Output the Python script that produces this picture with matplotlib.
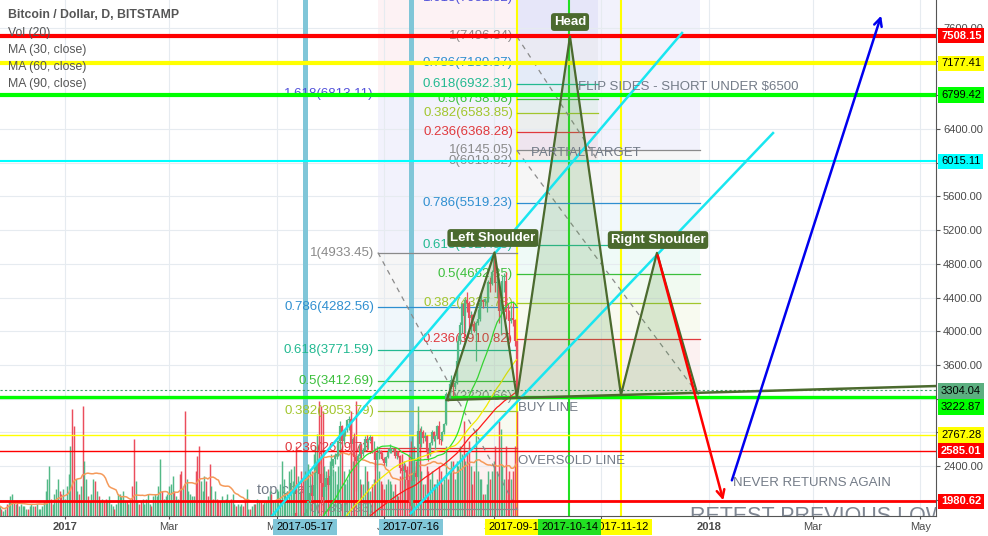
import numpy as np
import pandas as pd
import matplotlib
matplotlib.use("Agg")
import matplotlib.pyplot as plt
import matplotlib.transforms as mtrans

plt.rcParams['font.family'] = ['Liberation Sans', 'DejaVu Sans']

# daily closes BTC/USD, 2016-11-25 .. 2017-09-14
start_date = "2016-11-25"
first_open = 735
closes = [
    736, 728, 729, 733, 732, 743,
    751, 774, 765, 768, 752, 759, 764, 768, 770, 774, 768, 770, 780, 780, 778, 785,
    790, 790, 792, 800, 834, 861, 917, 891, 891, 907, 933, 975, 973, 961, 963,
    998, 1021, 1044, 1154, 1013, 903, 908, 911, 902, 908, 777, 804, 826, 818, 822, 831,
    907, 863, 899, 895, 921, 925, 921, 892, 895, 915, 918, 920, 914, 920, 970,
    989, 1011, 1030, 1040, 1026, 1046, 1055, 1052, 982, 1003, 1014, 999, 990, 1006,
    1007, 1027, 1046, 1055, 1047, 1081, 1118, 1120, 1172, 1177, 1145, 1172, 1189, 1190,
    1222, 1251, 1275, 1256, 1270, 1277, 1234, 1150, 1189, 1116, 1175, 1221, 1231, 1240,
    1249, 1187, 1100, 973, 1022, 1047, 1123, 1050, 1038, 937, 972, 966, 1045, 1044,
    1041, 1037, 1080,
    1087, 1099, 1141, 1142, 1133, 1191, 1193, 1181, 1205, 1209, 1225, 1219, 1172, 1182,
    1186, 1184, 1203, 1212, 1211, 1258, 1261, 1257, 1251, 1257, 1279, 1307, 1346, 1332,
    1348, 1352,
    1421, 1452, 1490, 1537, 1555, 1578, 1596, 1725, 1755, 1787, 1848, 1724, 1804, 1808,
    1739, 1734, 1839, 1888, 1987, 2084, 2041, 2173, 2320, 2443, 2304, 2203, 2038, 2155,
    2255, 2175, 2286,
    2407, 2488, 2516, 2540, 2700, 2874, 2700, 2795, 2824, 2947, 2958, 2659, 2717, 2506,
    2464, 2519, 2655, 2549, 2590, 2721, 2689, 2705, 2745, 2589, 2590, 2478, 2553, 2574,
    2540, 2480,
    2434, 2507, 2564, 2601, 2601, 2608, 2518, 2571, 2518, 2373, 2337, 2398, 2357, 2233,
    1998, 1930, 2229, 2318, 2273, 2818, 2667, 2810, 2730, 2755, 2577, 2530, 2673, 2809,
    2726, 2758, 2875,
    2718, 2710, 2805, 2895, 3252, 3213, 3379, 3420, 3342, 3381, 3650, 3884, 4073, 4325,
    4181, 4376, 4331, 4160, 4193, 4087, 4001, 4100, 4151, 4334, 4371, 4352, 4382, 4382,
    4579, 4565, 4703,
    4892, 4578, 4582, 4236, 4376, 4597, 4599, 4228, 4226, 4122, 4161, 4130, 3882, 3304.04,
]
# daily volume, thousand BTC
volumes = [
    4, 3, 2, 3, 5, 6,
    8, 9, 6, 5, 6, 4, 5, 4, 4, 3, 3, 4, 5, 4, 4, 5, 3, 3, 4, 6, 10, 15, 20, 7, 5, 9, 11, 15, 10, 9, 11,
    7, 12, 17, 28, 43, 36, 15, 10, 9, 12, 44, 22, 15, 8, 6, 9, 15, 14, 10, 8, 6, 7, 6, 7, 6, 8, 5, 4, 3, 5, 9,
    9, 8, 10, 6, 6, 5, 7, 12, 31, 14, 6, 5, 6, 7, 5, 7, 9, 5, 4, 8, 9, 8, 12, 23, 10, 7, 8, 9,
    12, 13, 16, 10, 8, 7, 17, 18, 12, 42, 15, 10, 9, 8, 8, 18, 24, 28, 14, 10, 16, 14, 8, 21, 12, 7, 10, 7, 6, 6, 8,
    6, 7, 9, 6, 7, 9, 5, 4, 5, 4, 5, 4, 6, 11, 3, 3, 4, 5, 5, 7, 6, 6, 5, 6, 6, 8, 10, 9, 6, 6,
    11, 10, 13, 22, 15, 9, 10, 18, 19, 14, 20, 28, 16, 10, 18, 15, 18, 16, 21, 19,
    18, 25, 28, 33, 46, 44, 42, 20, 18, 19, 22,
    25, 19, 18, 13, 20, 30, 28, 18, 13, 15, 19, 42, 22, 32, 46, 25, 15, 13, 13, 20,
    18, 14, 10, 13, 15, 22, 28, 18, 14, 13,
    11, 13, 15, 14, 13, 10, 13, 9, 8, 16, 25, 22, 15, 20, 25, 30, 32, 28, 22, 44,
    28, 18, 13, 13, 20, 18, 15, 18, 13, 13, 15,
    20, 18, 13, 15, 28, 15, 18, 22, 22, 15, 22, 20, 28, 25, 38, 22, 25, 30, 20, 13,
    18, 35, 18, 15, 15, 9, 9, 13, 18, 15, 18,
    22, 28, 18, 38, 35, 20, 15, 28, 15, 18, 15, 18, 28, 42,
]

# highs / lows of the candles that sit inside the price window (from 2017-05-08)
candle_start = "2017-05-08"
highs = [
    1730, 1770, 1790, 1880, 1850, 1810, 1830, 1810, 1760, 1860, 1900, 1990, 2090, 2110,
    2270, 2330, 2500, 2760, 2500, 2320, 2250, 2290, 2300, 2320,
    2450, 2490, 2550, 2560, 2710, 2930, 2890, 2820, 2840, 2960, 2990, 2970, 2750, 2790,
    2530, 2540, 2680, 2670, 2620, 2760, 2770, 2730, 2770, 2760, 2700, 2620, 2570, 2600, 2590, 2570,
    2510, 2520, 2610, 2660, 2620, 2620, 2610, 2580, 2580, 2530, 2430, 2420, 2430, 2380,
    2240, 2060, 2250, 2400, 2400, 2900, 2850, 2880, 2830, 2800, 2770, 2620, 2690, 2830, 2820, 2770, 2890,
    2930, 2760, 2820, 2910, 3280, 3280, 3400, 3480, 3430, 3410, 3690, 3950, 4110, 4330,
    4370, 4390, 4470, 4360, 4240, 4200, 4120, 4120, 4260, 4350, 4450, 4380, 4400, 4400, 4610, 4640, 4730,
    4920, 4933.45, 4700, 4590, 4430, 4650, 4690, 4700, 4330, 4250, 4300, 4360, 4150, 3900,
]
lows = [
    1600, 1695, 1720, 1780, 1690, 1640, 1765, 1690, 1690, 1720, 1820, 1880, 1970, 2000,
    2030, 2140, 2310, 2250, 1970, 1850, 2000, 2120, 2130, 2160,
    2280, 2380, 2430, 2480, 2520, 2690, 2650, 2660, 2760, 2800, 2830, 2330, 2580, 2350,
    2100, 2390, 2500, 2500, 2520, 2580, 2600, 2610, 2700, 2550, 2480, 2350, 2380, 2480, 2500, 2470,
    2410, 2400, 2500, 2560, 2560, 2580, 2500, 2480, 2510, 2320, 2250, 2260, 2330, 2180,
    1980, 1840, 1920, 2180, 2230, 2260, 2620, 2630, 2680, 2700, 2500, 2460, 2520, 2650, 2700, 2600, 2720,
    2660, 2650, 2700, 2780, 2890, 3170, 3200, 3360, 3230, 3320, 3380, 3640, 3850, 3980,
    3900, 3980, 4230, 4000, 3970, 4060, 3990, 3650, 4070, 4120, 4300, 4280, 4300, 4230, 4350, 4460, 4550,
    4690, 4460, 4400, 4100, 3970, 4370, 4460, 4140, 4140, 3900, 4100, 4060, 3820, 3220.6,
]

# horizontal levels (price, colour, text colour of the scale tag)
level_prices = [7508.15, 7177.41, 6799.42, 6015.11, 3222.87, 2767.28, 2585.01, 1980.62]
level_colors = ['#ff0000', '#ffff00', '#00ff00', '#00ffff', '#00ff00', '#ffff00', '#ff0000', '#ff0000']
level_text = ['white', 'black', 'black', 'black', 'black', 'black', 'white', 'white']
last_price = 3304.04

# vertical date markers (days from 2017-01-01)
marker_days = [136, 196, 256, 315, 286]
marker_text = ['2017-05-17', '2017-07-16', '2017-09-14', '2017-11-12', '2017-10-14']
marker_colors = ['#80c6d8', '#80c6d8', '#ffff00', '#ffff00', '#22e022']

# fib retracements: start day, end day, price at level 1, price at level 0
fib_x1 = [177.4, 256.2, 256.2]
fib_x2 = [256.2, 302.2, 360.0]
fib_p1 = [4933.45, 7496.34, 6145.05]
fib_p0 = [1891.93, 6019.824, 3220.66]
fib_levels = [0, 0.236, 0.382, 0.5, 0.618, 0.786, 1, 1.618, 2.618]
fib_colors = ['#8a8a8a', '#e0393e', '#a2c62c', '#3cbf3c', '#22b991', '#2f8fd0', '#8a8a8a',
              '#5151d9', '#e8506a']

# head & shoulders drawing
hs_days = [216.5, 243.5, 256.2, 286.3, 315.2, 335.6, 358.3]
hs_prices = [3185, 4935, 3212, 7496.34, 3244, 4930, 3270]
neck_days = [216.5, 493.8]
neck_prices = [3185, 3350]

# trend / channel lines
cyan_days = [[117.3, 349.8], [196.0, 401.4]]
cyan_prices = [[1808, 7538], [1840, 6351]]

x_ticks = [0, 59, 120, 181, 243, 304, 365, 424, 485]
x_labels = ['2017', 'Mar', 'May', 'Jul', 'Sep', 'Nov', '2018', 'Mar', 'May']

UP, DOWN = '#53b987', '#eb4d5c'
OLIVE = '#4b6a2e'
GREY_TXT = '#737b87'

# ---------------------------------------------------------------------------
dates = pd.date_range(start_date, periods=len(closes), freq='D')
days = (dates - pd.Timestamp('2017-01-01')).days.values.astype(float)
closes = np.array(closes, dtype=float)
opens = np.r_[first_open, closes[:-1]]
volumes = np.array(volumes, dtype=float)
up = closes >= opens

fig = plt.figure(figsize=(9.88, 5.36), dpi=100)
ax = fig.add_axes([0, 20 / 536, 936 / 988, 516 / 536])
ax.set_xlim(-36.85, 493.8)
ax.set_ylim(1808.3, 7929.3)

ax.set_axisbelow(True)
ax.grid(color='#e6ebf0', lw=0.8)
for s in ['top', 'left']:
    ax.spines[s].set_visible(False)
for s in ['right', 'bottom']:
    ax.spines[s].set_color('#555555')
ax.yaxis.tick_right()
ax.set_yticks(np.arange(2000, 7601, 400))
ax.yaxis.set_major_formatter(matplotlib.ticker.FormatStrFormatter('%.2f'))
ax.tick_params(axis='y', length=3, color='#555555', labelsize=8, labelcolor='#4a4a4a', pad=2)
ax.set_xticks(x_ticks)
ax.set_xticklabels(x_labels)
ax.tick_params(axis='x', length=2.5, color='#555555', labelsize=8, labelcolor='#4a4a4a', pad=1.5)
for lbl in ax.get_xticklabels():
    if lbl.get_text() in ('2017', '2018'):
        lbl.set_fontweight('bold')

# fib retracements
lab_tr = mtrans.offset_copy(ax.transData, fig=fig, x=-4, y=0, units='dots')
for x1, x2, p1, p0 in zip(fib_x1, fib_x2, fib_p1, fib_p0):
    prices = [p0 + lv * (p1 - p0) for lv in fib_levels]
    for i, (lv, pr, col) in enumerate(zip(fib_levels, prices, fib_colors)):
        ax.plot([x1, x2], [pr, pr], color=col, lw=0.9, zorder=2)
        ax.text(x1, pr, f"{lv:g}({pr:.2f})", transform=lab_tr, ha='right', va='center',
                color=col, fontsize=9.5, clip_on=True, zorder=2)
        if i > 0:
            ax.fill_between([x1, x2], prices[i - 1], pr, color=col, alpha=0.07, lw=0, zorder=0.5)
    ax.plot([x1, x2], [p1, p0], color='#8a8a8a', lw=0.9, ls=(0, (4, 4)), zorder=2)

# vertical date markers
for d, col in zip(marker_days, marker_colors):
    wide = col == '#80c6d8'
    ax.axvline(d, color=col, lw=3.6 if wide else 1.5, zorder=1)

# volume pane overlay
vol_tr = mtrans.blended_transform_factory(ax.transData, ax.transAxes)
VOL_FRAC = 2.5 / 516
ax.vlines(days, 0, volumes * VOL_FRAC, transform=vol_tr,
          colors=np.where(up, UP, DOWN), lw=1.05, zorder=1.5)
vol_ma = pd.Series(volumes).rolling(20, min_periods=1).mean().values
ax.plot(days, vol_ma * VOL_FRAC, transform=vol_tr, color='#f59a5a', lw=1.1, zorder=1.6)

# horizontal levels
level_lw = [3.0, 3.0, 3.0, 1.5, 2.4, 1.0, 1.0, 2.0]
for p, col, w in zip(level_prices, level_colors, level_lw):
    ax.axhline(p, color=col, lw=w, zorder=2.5)
ax.axhline(last_price, color='#3f9f6a', lw=0.8, ls=(0, (2, 2)), zorder=2.5)

# candles
i0 = int(np.where(dates == pd.Timestamp(candle_start))[0][0])
cd, co, cc = days[i0:], opens[i0:], closes[i0:]
ccol = np.where(cc >= co, UP, DOWN)
ax.vlines(cd, lows, highs, colors=ccol, lw=0.9, zorder=3)
ax.vlines(cd, np.minimum(co, cc), np.maximum(co, cc), colors=ccol, lw=1.6, zorder=3)

# moving averages
s = pd.Series(closes)
for n, col in [(30, '#2ee02e'), (60, '#f2ea00'), (90, '#ff1a1a')]:
    ax.plot(days, s.rolling(n).mean().values, color=col, lw=0.9, zorder=3.5)

# channel lines
for dd, pp in zip(cyan_days, cyan_prices):
    ax.plot(dd, pp, color='#19e6f0', lw=1.8, zorder=4)

# head & shoulders
for k in range(0, 6, 2):
    ax.fill(hs_days[k:k + 3], hs_prices[k:k + 3], color='#5a9e4a', alpha=0.2, lw=0, zorder=3.8)
ax.plot(hs_days, hs_prices, color=OLIVE, lw=1.6, zorder=4)
ax.plot(neck_days, neck_prices, color=OLIVE, lw=1.8, zorder=4)
box = dict(boxstyle='round,pad=0.22,rounding_size=0.25', fc=OLIVE, ec='none')
ax.text(286.3, 7668, 'Head', ha='center', va='center', color='white', fontsize=9.5,
        fontweight='bold', bbox=box, zorder=6)
ax.text(242.6, 5106, 'Left Shoulder', ha='center', va='center', color='white', fontsize=9.5,
        fontweight='bold', bbox=box, zorder=6)
ax.text(336.2, 5082, 'Right Shoulder', ha='center', va='center', color='white', fontsize=9.5,
        fontweight='bold', bbox=box, zorder=6)

# arrows
ax.annotate('', xy=(373.6, 1962), xytext=(335.6, 4930), zorder=5,
            arrowprops=dict(arrowstyle='->', color='#ff0000', lw=1.8, mutation_scale=14))
ax.annotate('', xy=(463.2, 7775), xytext=(377.6, 2200), zorder=5,
            arrowprops=dict(arrowstyle='->', color='#0000ee', lw=1.8, mutation_scale=14))

# free text
ax.text(290.8, 6897, 'FLIP SIDES - SHORT UNDER $6500', color=GREY_TXT, fontsize=9.5, va='center', zorder=5)
ax.text(264.2, 6114, 'PARTIAL TARGET', color=GREY_TXT, fontsize=9.5, va='center', zorder=5)
ax.text(256.8, 3089, 'BUY LINE', color=GREY_TXT, fontsize=9.5, va='center', zorder=5)
ax.text(256.8, 2460, 'OVERSOLD LINE', color=GREY_TXT, fontsize=9.5, va='center', zorder=5)
ax.text(378.7, 2200, 'NEVER RETURNS AGAIN', color=GREY_TXT, fontsize=9.5, va='center', zorder=5)
ax.text(354.3, 1927, 'RETEST PREVIOUS LOW', color='#7d8591', fontsize=15.5, va='top',
        clip_on=True, zorder=5)
ax.text(108.8, 2116, 'top chart', color=GREY_TXT, fontsize=10.5, va='center', zorder=0.9)

# price scale tags
tag_tr = mtrans.offset_copy(ax.get_yaxis_transform(), fig=fig, x=5, y=0, units='dots')
tag_shift = [0, 0, 0, 0, -10, 0, 0, 0]
ax.text(1.0, last_price, f"{last_price:.2f}", transform=mtrans.offset_copy(tag_tr, fig=fig, y=-1, units='dots'),
        ha='left', va='center', fontsize=8, color='black', clip_on=False, zorder=7,
        bbox=dict(boxstyle='square,pad=0.25', fc='#5caf80', ec='none'))
for p, col, tc, sh in zip(level_prices, level_colors, level_text, tag_shift):
    tr = mtrans.offset_copy(tag_tr, fig=fig, y=sh, units='dots')
    ax.text(1.0, p, f"{p:.2f}", transform=tr, ha='left', va='center', fontsize=8, color=tc,
            fontweight='bold' if tc == 'white' else 'normal', clip_on=False, zorder=7,
            bbox=dict(boxstyle='square,pad=0.25', fc=col, ec='none'))

# date tags on the time scale
for d, t, col in zip(marker_days, marker_text, marker_colors):
    ax.text(d, -0.021, t, transform=ax.get_xaxis_transform(), ha='center', va='center',
            fontsize=8, color='black', clip_on=False, zorder=7,
            bbox=dict(boxstyle='square,pad=0.3', fc=col, ec='none'))

# legend block
fig.text(8 / 988, 1 - 15 / 536, 'Bitcoin / Dollar, D, BITSTAMP', fontsize=8.8, fontweight='bold',
         color='#555555', va='center')
for k, t in enumerate(['Vol (20)', 'MA (30, close)', 'MA (60, close)', 'MA (90, close)']):
    fig.text(8 / 988, 1 - (33 + 17 * k) / 536, t, fontsize=8.8, color='#555555', va='center')

fig.savefig('out.png', dpi=100)
